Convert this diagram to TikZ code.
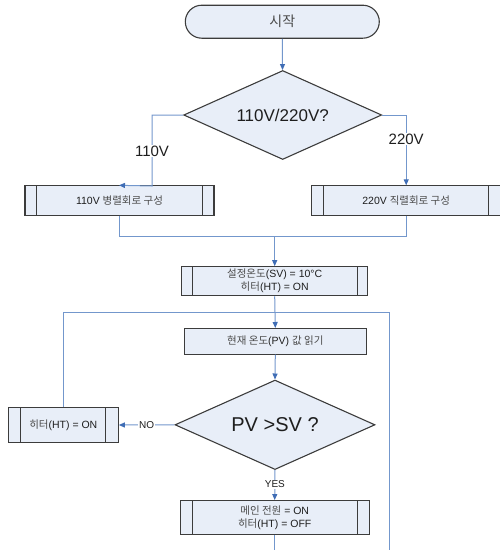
\documentclass[tikz,border=0pt]{standalone}
\usepackage{fontspec}
\setmainfont{Liberation Sans}
\newfontfamily\kr{Noto Sans CJK KR}
\newcommand{\K}[1]{{\kr\color{krtext}#1}}
\usetikzlibrary{arrows.meta,shapes.geometric}
\definecolor{boxfill}{HTML}{E8EEF8}
\definecolor{boxline}{HTML}{3C3C3C}
\definecolor{conn}{HTML}{7397CC}
\definecolor{tip}{HTML}{3F6DB5}
\definecolor{krtext}{HTML}{4A4A4A}
\definecolor{ltext}{HTML}{1E1E1E}
\tikzset{
  base/.style={draw=boxline, fill=boxfill, line width=1.1pt, text=ltext, inner sep=0pt, align=center},
  startbox/.style={base, minimum width=194pt, minimum height=33pt, rounded corners=16.5pt, font=\fontsize{14}{16}\selectfont},
  procbox/.style={base, font=\fontsize{10.5}{13}\selectfont},
  ppbox/.style={base, font=\fontsize{10.5}{13}\selectfont,
    path picture={
      \draw[boxline, line width=1.1pt] ([xshift=#1]path picture bounding box.north west) -- ([xshift=#1]path picture bounding box.south west);
      \draw[boxline, line width=1.1pt] ([xshift=-#1]path picture bounding box.north east) -- ([xshift=-#1]path picture bounding box.south east);
    }},
  decision/.style={base, diamond, aspect=2.2},
  conline/.style={draw=conn, line width=1pt},
  arr/.style={conline, -{Triangle[length=6pt,width=5pt,fill=tip,color=tip]}},
  lbl/.style={fill=white, inner sep=1pt, text=ltext},
}
\begin{document}
\begin{tikzpicture}[x=1pt, y=-1pt]
\useasboundingbox (0,0) rectangle (500,550);

% nodes
\node[startbox] (start) at (282.3,21.7) {\K{시작}};
\node[decision, minimum width=198pt, minimum height=89pt, font=\fontsize{17}{20}\selectfont] (d1) at (282.7,115) {110V/220V?};
\node[ppbox=11.5pt, minimum width=189pt, minimum height=29.3pt] (b1) at (119.5,200.5) {110V \K{병렬회로 구성}};
\node[ppbox=12pt, minimum width=189pt, minimum height=29.3pt] (b2) at (406.2,200.5) {220V \K{직렬회로 구성}};
\node[ppbox=10.5pt, minimum width=186pt, minimum height=29pt] (b3) at (274.7,281.2) {\K{설정온도}(SV) = 10°C\\ \K{히터}(HT) = ON};
\node[procbox, minimum width=182pt, minimum height=25.5pt] (b4) at (275.3,341.3) {\K{현재 온도}(PV) \K{값 읽기}};
\node[decision, minimum width=200pt, minimum height=89.5pt, font=\fontsize{20}{24}\selectfont] (d2) at (275,424.8) {PV >SV ?};
\node[ppbox=12.5pt, minimum width=110pt, minimum height=34.6pt] (b5) at (63.3,425) {\K{히터}(HT) = ON};
\node[ppbox=12pt, minimum width=189.3pt, minimum height=33.8pt] (b6) at (274.7,517.5) {\K{메인 전원} = ON\\ \K{히터}(HT) = OFF};

% helper coordinates
\coordinate (merge) at (274.7,236);
\coordinate (lt) at (63.3,312.5);
\coordinate (rt) at (389.2,312.5);
\coordinate (re) at (389.2,551);
\coordinate (bend) at (274.7,551);
\coordinate (c110) at (152,186);

% connectors
\draw[arr] (start) -- (d1);
\draw[arr] (d1.west) -| (c110) -- ([xshift=-0.5pt]b1.north);
\draw[arr] (d1.east) -| (b2.north);
\node[lbl, font=\fontsize{15}{17}\selectfont] (l110) at (152,151) {110V};
\node[lbl, font=\fontsize{15}{17}\selectfont] (l220) at (406.2,139) {220V};
\draw[conline] (b1.south) |- (merge);
\draw[conline] (b2.south) |- (merge);
\draw[arr] (merge) -- (b3.north);
\draw[arr] (b3.south) -- (b4.north);
\draw[arr] (b4.south) -- (d2.north);
\draw[arr] (d2.west) -- (b5.east) node[lbl, pos=0.5, font=\fontsize{10}{12}\selectfont] (lno) {NO};
\draw[arr] (d2.south) -- (b6.north) node[lbl, pos=0.47, font=\fontsize{10}{12}\selectfont] (lyes) {YES};
\draw[conline] (b6.south) -- (bend);
\draw[conline] (b5.north) -- (lt) -- (rt) -- (re);
\end{tikzpicture}
\end{document}
